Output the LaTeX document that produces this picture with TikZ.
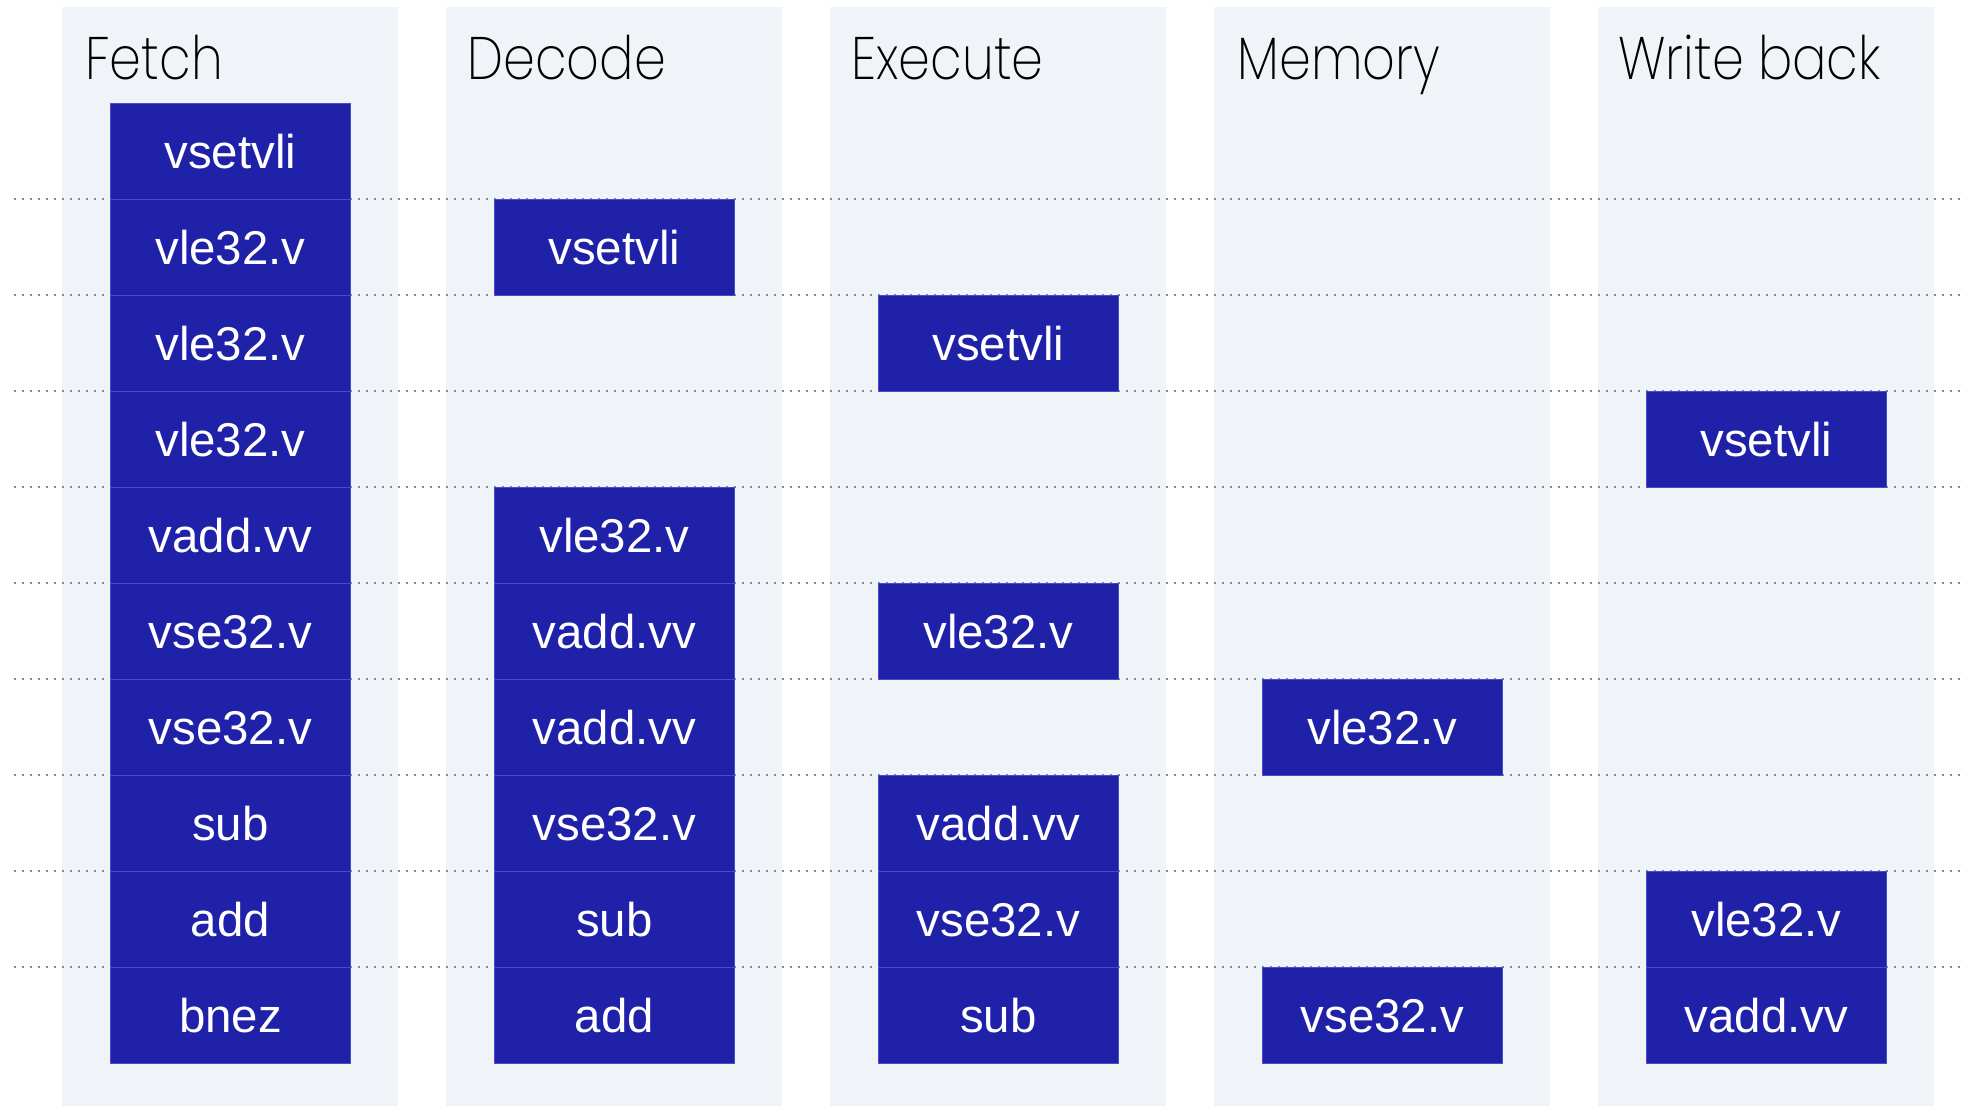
\documentclass[tikz,border=0pt]{standalone}
\usepackage{fontspec}
\setmainfont{Liberation Sans}
\newfontfamily\hdrfont{Poppins ExtraLight}
\definecolor{boxblue}{RGB}{31,34,168}
\definecolor{colbg}{RGB}{240,244,248}
\definecolor{dotgray}{RGB}{125,140,145}
\definecolor{boxedge}{RGB}{72,78,192}
\newcommand{\hdrtxt}[1]{\scalebox{0.85}[1]{#1}}
\begin{document}
\begin{tikzpicture}[x=0.5pt,y=-0.5pt,
  colbgstyle/.style={fill=colbg},
  instr/.style={fill=boxblue, draw=boxedge, line width=0.4pt, minimum width=120pt, minimum height=48pt, inner sep=0pt, text=white, font=\fontsize{23.7}{28}\selectfont, text height=17pt, text depth=0pt, anchor=north west},
  hdr/.style={font=\hdrfont\fontsize{30}{36}\selectfont, anchor=base west, inner sep=0pt},
  rowline/.style={draw=dotgray, line width=0.8pt, dash pattern=on 0.8pt off 3.2pt}]
\useasboundingbox (0,0) rectangle (1970,1106);
% columns
\foreach \c in {0,...,4} \fill[colbgstyle] ({62+384*\c},7) rectangle ({398+384*\c},1106);
% row lines
\foreach \k in {1,...,9} \draw[rowline] (14,{103+96*\k}) -- (1966,{103+96*\k});
% headers
\node[hdr] (h0) at (85,80) {\hdrtxt{Fetch}};
\node[hdr] (h1) at (467,80) {\hdrtxt{Decode}};
\node[hdr] (h2) at (851,80) {\hdrtxt{Execute}};
\node[hdr] (h3) at (1237,80) {\hdrtxt{Memory}};
\node[hdr] (h4) at (1618,80) {\hdrtxt{Write back}};
% Fetch
\foreach \r/\t in {0/vsetvli,1/vle32.v,2/vle32.v,3/vle32.v,4/vadd.vv,5/vse32.v,6/vse32.v,7/sub,8/add,9/bnez}
  \node[instr] (F\r) at (110,{103+96*\r}) {\t};
% Decode
\foreach \r/\t in {1/vsetvli,4/vle32.v,5/vadd.vv,6/vadd.vv,7/vse32.v,8/sub,9/add}
  \node[instr] (D\r) at (494,{103+96*\r}) {\t};
% Execute
\foreach \r/\t in {2/vsetvli,5/vle32.v,7/vadd.vv,8/vse32.v,9/sub}
  \node[instr] (E\r) at (878,{103+96*\r}) {\t};
% Memory
\foreach \r/\t in {6/vle32.v,9/vse32.v}
  \node[instr] (M\r) at (1262,{103+96*\r}) {\t};
% Write back
\foreach \r/\t in {3/vsetvli,8/vle32.v,9/vadd.vv}
  \node[instr] (W\r) at (1646,{103+96*\r}) {\t};
\end{tikzpicture}
\end{document}
